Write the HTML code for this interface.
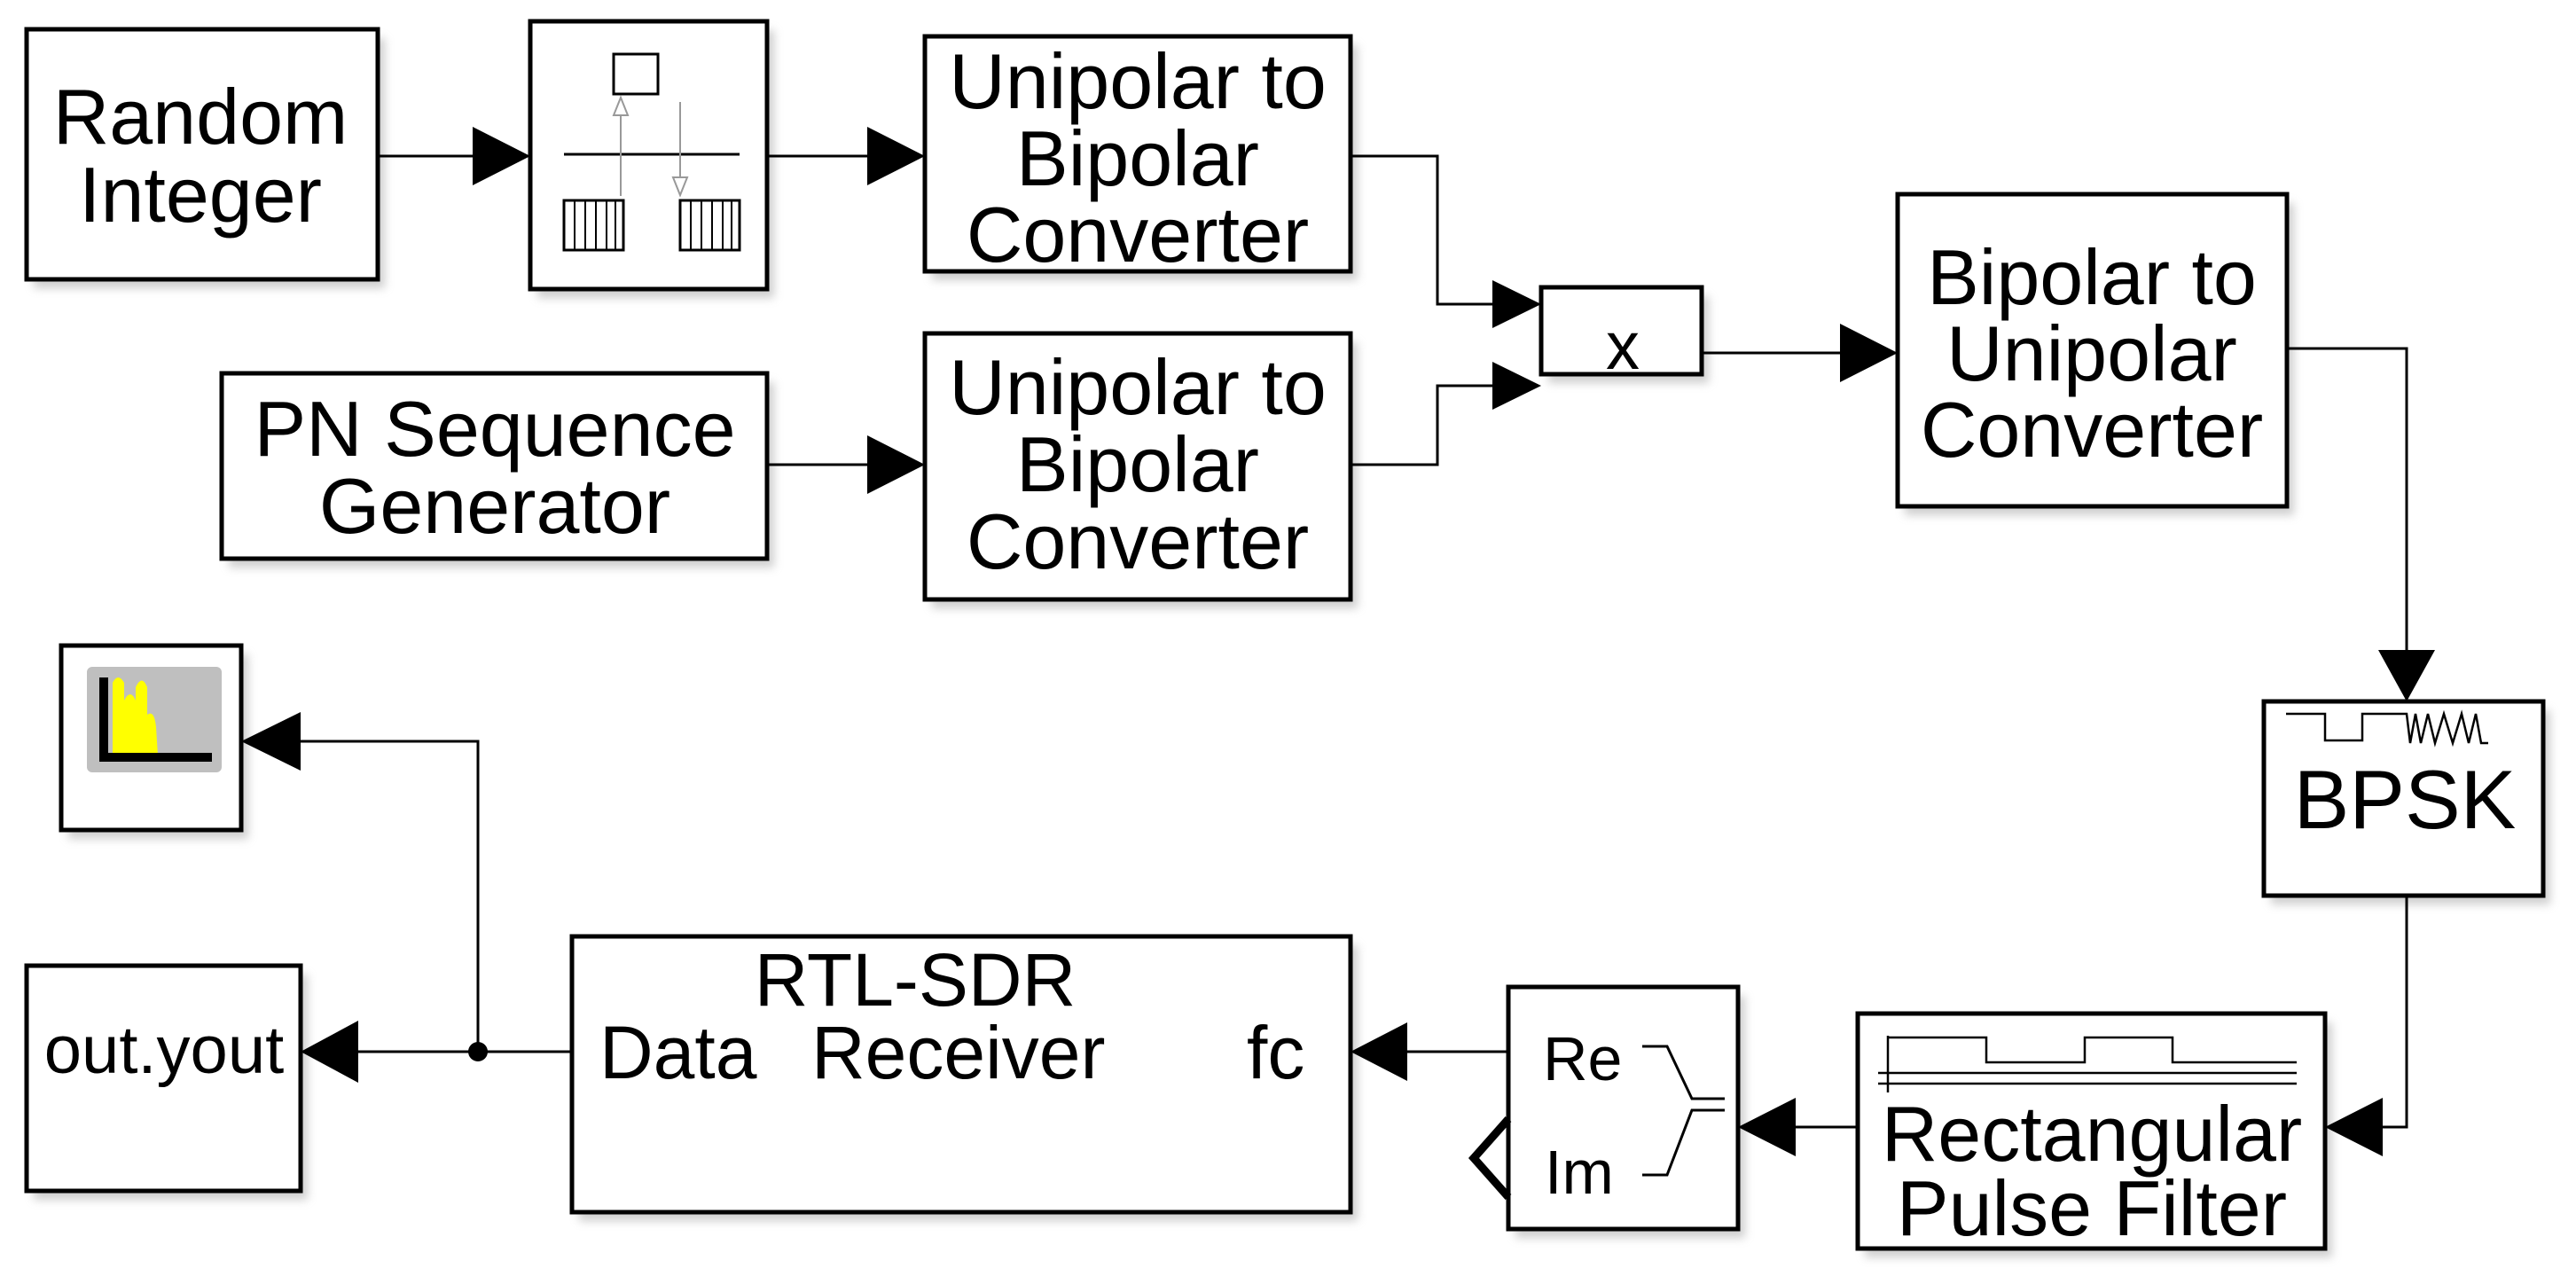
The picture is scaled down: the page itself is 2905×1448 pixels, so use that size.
<!DOCTYPE html>
<html><head><meta charset="utf-8"><style>
html,body{margin:0;padding:0;background:#fff;}
svg{display:block;}
text{font-family:"Liberation Sans",Arial,sans-serif;fill:#000;}
</style></head><body>
<svg width="2905" height="1448" viewBox="0 0 2905 1448" xmlns="http://www.w3.org/2000/svg">
<defs>
<filter id="sh" x="-5%" y="-5%" width="115%" height="120%"><feGaussianBlur stdDeviation="5"/></filter>
</defs>
<g fill="#bbb" filter="url(#sh)" opacity="0.7">
<rect x="38" y="43" width="396" height="282"/>
<rect x="606" y="34" width="267" height="302"/>
<rect x="1051" y="51" width="480" height="265"/>
<rect x="258" y="431" width="615" height="209"/>
<rect x="1051" y="386" width="480" height="300"/>
<rect x="1746" y="334" width="181" height="98"/>
<rect x="2148" y="229" width="439" height="352"/>
<rect x="2561" y="801" width="315" height="219"/>
<rect x="2103" y="1153" width="527" height="265"/>
<rect x="1709" y="1123" width="259" height="273"/>
<rect x="653" y="1066" width="878" height="311"/>
<rect x="38" y="1099" width="309" height="254"/>
<rect x="77" y="738" width="203" height="208"/>
</g>
<g fill="#fff" stroke="#000" stroke-width="5">
<rect x="30" y="33" width="396" height="282"/>
<rect x="598" y="24" width="267" height="302"/>
<rect x="1043" y="41" width="480" height="265"/>
<rect x="250" y="421" width="615" height="209"/>
<rect x="1043" y="376" width="480" height="300"/>
<rect x="1738" y="324" width="181" height="98"/>
<rect x="2140" y="219" width="439" height="352"/>
<rect x="2553" y="791" width="315" height="219"/>
<rect x="2095" y="1143" width="527" height="265"/>
<rect x="1701" y="1113" width="259" height="273"/>
<rect x="645" y="1056" width="878" height="311"/>
<rect x="30" y="1089" width="309" height="254"/>
<rect x="69" y="728" width="203" height="208"/>
</g>
<g fill="none" stroke="#000" stroke-width="3">
<line x1="426" y1="176" x2="540" y2="176"/>
<line x1="865" y1="176" x2="985" y2="176"/>
<line x1="865" y1="524" x2="985" y2="524"/>
<polyline points="1523,176 1621,176 1621,343 1690,343"/>
<polyline points="1523,524 1621,524 1621,435 1690,435"/>
<line x1="1919" y1="398" x2="2080" y2="398"/>
<polyline points="2579,393 2714,393 2714,740"/>
<polyline points="2714,1010 2714,1271 2680,1271"/>
<line x1="2095" y1="1271" x2="2020" y2="1271"/>
<line x1="1701" y1="1186" x2="1580" y2="1186"/>
<line x1="645" y1="1186" x2="395" y2="1186"/>
<polyline points="539,1186 539,836 330,836"/>
</g>
<circle cx="539" cy="1186" r="11" fill="#000"/>
<g fill="#000">
<polygon points="533,143 598,176 533,209"/>
<polygon points="978,143 1043,176 978,209"/>
<polygon points="978,491 1043,524 978,557"/>
<polygon points="1683,316 1738,343 1683,370"/>
<polygon points="1683,408 1738,435 1683,462"/>
<polygon points="2075,365 2140,398 2075,431"/>
<polygon points="2682,733 2714,791 2746,733"/>
<polygon points="2687,1238 2622,1271 2687,1304"/>
<polygon points="2025,1238 1960,1271 2025,1304"/>
<polygon points="1587,1153 1523,1186 1587,1219"/>
<polygon points="404,1151 339,1186 404,1221"/>
<polygon points="339,803 272,836 339,869"/>
</g>
<g font-size="88" text-anchor="middle">
<text x="226" y="162">Random</text>
<text x="226" y="250">Integer</text>
<text x="1283" y="122">Unipolar to</text>
<text x="1283" y="209">Bipolar</text>
<text x="1283" y="295">Converter</text>
<text x="558" y="514">PN Sequence</text>
<text x="558" y="601">Generator</text>
<text x="1283" y="467">Unipolar to</text>
<text x="1283" y="554">Bipolar</text>
<text x="1283" y="641">Converter</text>
<text x="2359" y="343">Bipolar to</text>
<text x="2359" y="429">Unipolar</text>
<text x="2359" y="515">Converter</text>
<text x="2712" y="934" font-size="94">BPSK</text>
<text x="2359" y="1309">Rectangular</text>
<text x="2359" y="1393">Pulse Filter</text>
<text x="1032" y="1134" font-size="84">RTL-SDR</text>
</g>
<text x="1830" y="416" font-size="76" text-anchor="middle">x</text>
<g font-size="84">
<text x="676" y="1216">Data</text>
<text x="915" y="1216">Receiver</text>
<text x="1406" y="1216">fc</text>
</g>
<text x="185" y="1210" font-size="76" text-anchor="middle">out.yout</text>
<text x="1740" y="1218" font-size="70">Re</text>
<text x="1742" y="1346" font-size="70">Im</text>
<g fill="none" stroke="#000" stroke-width="3">
<polyline points="1852,1180 1880,1180 1908,1239 1945,1239"/>
<polyline points="1852,1325 1880,1325 1908,1252 1945,1252"/>
</g>
<polyline points="1701,1262 1662,1306 1701,1350" fill="none" stroke="#000" stroke-width="9"/>
<rect x="692" y="61" width="50" height="45" fill="#fff" stroke="#000" stroke-width="3"/>
<line x1="636" y1="174" x2="834" y2="174" stroke="#000" stroke-width="3"/>
<g stroke="#999" stroke-width="2" fill="#fff">
<line x1="700" y1="221" x2="700" y2="115"/>
<polygon points="692,130 700,110 708,130"/>
<line x1="767" y1="115" x2="767" y2="220"/>
<polygon points="759,200 767,220 775,200"/>
</g>
<g fill="#fff" stroke="#000" stroke-width="3">
<rect x="636" y="226" width="67" height="56"/>
<rect x="767" y="226" width="67" height="56"/>
</g>
<g stroke="#000" stroke-width="2">
<line x1="648" y1="226" x2="648" y2="282"/><line x1="660" y1="226" x2="660" y2="282"/><line x1="672" y1="226" x2="672" y2="282"/><line x1="684" y1="226" x2="684" y2="282"/><line x1="694" y1="226" x2="694" y2="282"/>
<line x1="779" y1="226" x2="779" y2="282"/><line x1="791" y1="226" x2="791" y2="282"/><line x1="803" y1="226" x2="803" y2="282"/><line x1="815" y1="226" x2="815" y2="282"/><line x1="825" y1="226" x2="825" y2="282"/>
</g>
<polyline fill="none" stroke="#000" stroke-width="2.5" points="2578,805 2622,805 2622,835 2664,835 2664,805 2714,805 2718,838 2724,805 2730,838 2738,805 2746,838 2756,805 2766,838 2776,805 2784,838 2792,805 2798,838 2806,838"/>
<g fill="none" stroke="#000" stroke-width="2.5">
<line x1="2129" y1="1168" x2="2129" y2="1232"/>
<polyline points="2129,1170 2240,1170 2240,1198 2351,1198 2351,1170 2450,1170 2450,1198 2590,1198"/>
<line x1="2118" y1="1210" x2="2590" y2="1210"/>
<line x1="2118" y1="1222" x2="2590" y2="1222"/>
</g>
<rect x="98" y="752" width="152" height="119" rx="6" fill="#bfbfbf"/>
<path d="M127 852 L127 770 Q133 758 140 770 L140 790 Q147 776 153 790 L153 775 Q160 760 166 775 L166 806 Q174 800 176 820 L178 852 Z" fill="#ffff00"/>
<rect x="112" y="764" width="10" height="94" fill="#000"/>
<rect x="112" y="849" width="127" height="10" fill="#000"/>
</svg>
</body></html>
